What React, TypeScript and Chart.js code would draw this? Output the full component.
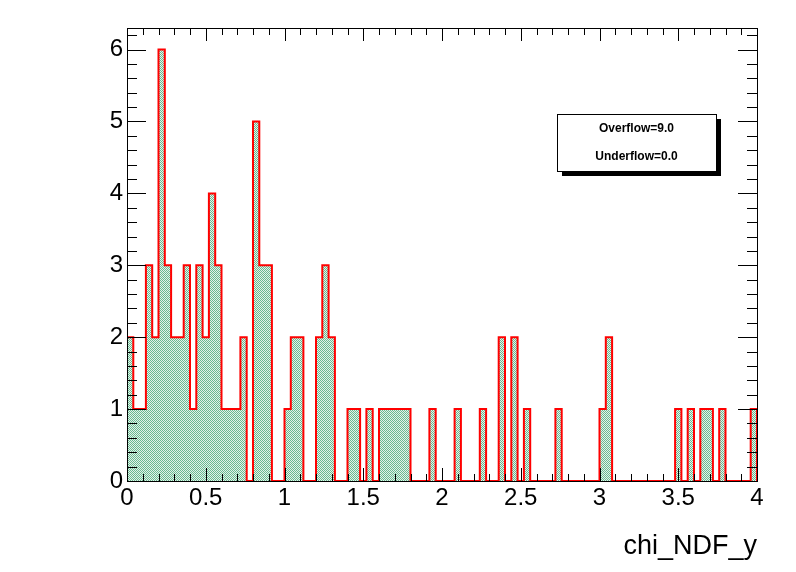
import { useEffect, useRef } from "react"
import { Chart, registerables } from "chart.js"

Chart.register(...registerables)

// 100 bins, 0..4 (width 0.04)
const binLow = 0
const binWidth = 0.04
const counts = [
  2, 1, 1, 3, 2, 6, 3, 2, 2, 3, 1, 3, 2, 4, 3, 1, 1, 1, 2, 0,
  5, 3, 3, 0, 0, 1, 2, 2, 0, 0, 2, 3, 2, 0, 0, 1, 1, 0, 1, 0,
  1, 1, 1, 1, 1, 0, 0, 0, 1, 0, 0, 0, 1, 0, 0, 0, 1, 0, 0, 2,
  0, 2, 0, 1, 0, 0, 0, 0, 1, 0, 0, 0, 0, 0, 0, 1, 2, 0, 0, 0,
  0, 0, 0, 0, 0, 0, 0, 1, 0, 1, 0, 1, 1, 0, 1, 0, 0, 0, 0, 1,
]
const xTickLabels = ["0", "0.5", "1", "1.5", "2", "2.5", "3", "3.5", "4"]
const yTickLabels = ["0", "1", "2", "3", "4", "5", "6"]
const statLines = ["Overflow=9.0", "Underflow=0.0"]
const xTitle = "chi_NDF_y"

const FONT = "'Liberation Sans', Arial, sans-serif"

function makePattern(ctx: CanvasRenderingContext2D) {
  const c = document.createElement("canvas")
  c.width = 2
  c.height = 2
  const p = c.getContext("2d")!
  p.fillStyle = "#e4f2ea"
  p.fillRect(0, 0, 2, 2)
  p.fillStyle = "rgb(105,185,145)"
  p.fillRect(0, 0, 1, 1)
  p.fillRect(1, 1, 1, 1)
  return ctx.createPattern(c, "repeat")!
}

export default function App() {
  const chartRef = useRef<HTMLCanvasElement>(null)
  const chartInstance = useRef<Chart | null>(null)

  useEffect(() => {
    document.body.style.margin = "0"
    if (!chartRef.current) return
    if (chartInstance.current) chartInstance.current.destroy()
    const ctx = chartRef.current.getContext("2d")
    if (!ctx) return

    const points: { x: number; y: number }[] = [{ x: binLow, y: 0 }]
    counts.forEach((v, i) => points.push({ x: binLow + i * binWidth, y: v }))
    const xMax = binLow + counts.length * binWidth
    points.push({ x: xMax, y: counts[counts.length - 1] })
    points.push({ x: xMax, y: 0 })

    const framePlugin = {
      id: "rootFrame",
      afterDraw(chart: Chart) {
        const c = chart.ctx
        const { left, right, top, bottom } = chart.chartArea
        const xs = chart.scales.x
        const ys = chart.scales.y
        c.save()
        c.strokeStyle = "#000"
        c.lineWidth = 1
        c.strokeRect(left + 0.5, top + 0.5, right - left, bottom - top)
        c.beginPath()
        // x ticks
        for (let i = 0; i <= 40; i++) {
          const v = i * 0.1
          const px = Math.round(xs.getPixelForValue(v)) + 0.5
          const len = i % 5 === 0 ? 13 : 7
          c.moveTo(px, bottom)
          c.lineTo(px, bottom - len)
          c.moveTo(px, top)
          c.lineTo(px, top + len)
        }
        // y ticks
        for (let i = 0; i <= 31; i++) {
          const v = i * 0.2
          const py = Math.round(ys.getPixelForValue(v)) + 0.5
          const len = i % 5 === 0 ? 19 : 10
          c.moveTo(left, py)
          c.lineTo(left + len, py)
          c.moveTo(right, py)
          c.lineTo(right - len, py)
        }
        c.stroke()

        c.fillStyle = "#000"
        c.font = `24px ${FONT}`
        c.textAlign = "center"
        c.textBaseline = "top"
        xTickLabels.forEach((t, i) => {
          c.fillText(t, xs.getPixelForValue(i * 0.5), bottom + 5)
        })
        c.textAlign = "right"
        c.textBaseline = "middle"
        yTickLabels.forEach((t, i) => {
          c.fillText(t, left - 4, ys.getPixelForValue(i))
        })
        c.font = `27px ${FONT}`
        c.textAlign = "right"
        c.textBaseline = "alphabetic"
        c.fillText(xTitle, right, 554)

        // stats box
        const bx = 557, by = 114, bw = 159, bh = 57
        c.fillRect(bx + 5, by + 5, bw, bh)
        c.fillStyle = "#fff"
        c.fillRect(bx, by, bw, bh)
        c.strokeRect(bx + 0.5, by + 0.5, bw, bh)
        c.fillStyle = "#000"
        c.font = `bold 12px ${FONT}`
        c.textAlign = "center"
        c.textBaseline = "middle"
        statLines.forEach((t, i) => c.fillText(t, bx + bw / 2, by + 15 + i * 28))
        c.restore()
      },
    }

    chartInstance.current = new Chart(ctx, {
      type: "line",
      data: {
        datasets: [
          {
            data: points,
            stepped: "before",
            borderColor: "#ff0000",
            borderWidth: 2,
            backgroundColor: makePattern(ctx),
            fill: "origin",
            pointRadius: 0,
            tension: 0,
          },
        ],
      },
      options: {
        animation: false,
        responsive: false,
        layout: { padding: { left: 127, right: 39, top: 28, bottom: 91 } },
        plugins: { legend: { display: false }, tooltip: { enabled: false } },
        scales: {
          x: { type: "linear", min: 0, max: 4, display: false },
          y: { type: "linear", min: 0, max: 6.3, display: false },
        },
      },
      plugins: [framePlugin],
    })

    return () => {
      if (chartInstance.current) chartInstance.current.destroy()
    }
  }, [])

  return (
    <div style={{ width: 796, height: 572, background: "#fff" }}>
      <canvas ref={chartRef} width={796} height={572} />
    </div>
  )
}
